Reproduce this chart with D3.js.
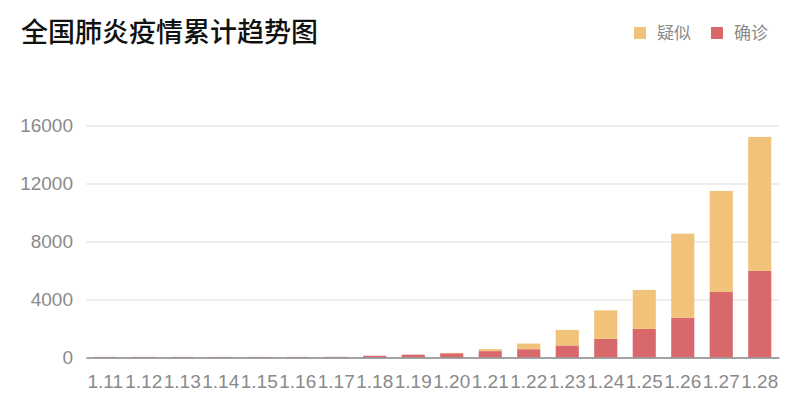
<!DOCTYPE html>
<html>
<head>
<meta charset="utf-8">
<script src="https://cdn.jsdelivr.net/npm/d3@7"></script>
<style>
    body { margin: 0; background: #fff; }
    svg text { font-family: "Noto Sans CJK SC", "Noto Sans", sans-serif; }
    svg .num text { font-family: "Liberation Sans", Arial, sans-serif; }
</style>
</head>
<body>
<div id="chart"></div>
<script>
// Cumulative cases per day
const dates = ['1.11', '1.12', '1.13', '1.14', '1.15', '1.16', '1.17', '1.18', '1.19',
    '1.20', '1.21', '1.22', '1.23', '1.24', '1.25', '1.26', '1.27', '1.28'];
const confirmed = [41, 41, 41, 41, 41, 41, 45, 121, 198, 291, 440, 571, 830, 1287, 1975, 2744, 4515, 5974];
const suspected = [0, 0, 0, 0, 0, 0, 0, 0, 0, 27, 140, 393, 1072, 1965, 2684, 5794, 6973, 9239];
const yTicks = [0, 4000, 8000, 12000, 16000];
const seriesNames = ['疑似', '确诊'];

const width = 800,
    height = 412,
    margin = { top: 125.5, right: 21, bottom: 54.5, left: 86 },
    colors = { '疑似': '#f0c27a', '确诊': '#d8686a' };

const svg = d3.select('#chart')
    .append('svg')
    .attr('width', width)
    .attr('height', height);

// Title
svg.append('text')
    .attr('x', 21)
    .attr('y', 42)
    .attr('font-size', 27)
    .attr('font-weight', 500)
    .attr('fill', '#111')
    .text('全国肺炎疫情累计趋势图');

// Legend
const legend = svg.append('g');
const legendX = [634, 711];
seriesNames.forEach((name, i) => {
    legend.append('rect')
        .attr('x', legendX[i])
        .attr('y', 27)
        .attr('width', 12)
        .attr('height', 12)
        .attr('fill', colors[name]);
    legend.append('text')
        .attr('x', legendX[i] + 23)
        .attr('y', 33)
        .attr('dy', '0.35em')
        .attr('font-size', 17)
        .attr('fill', '#8a8a8a')
        .text(name);
});

// Scales
const x = d3.scaleBand()
    .domain(dates)
    .range([margin.left, width - margin.right])
    .paddingInner(0.4)
    .paddingOuter(0.2);
const y = d3.scaleLinear()
    .domain([0, 16000])
    .range([height - margin.bottom, margin.top]);

// Gridlines + y labels
const yAxis = svg.append('g')
    .attr('class', 'num')
    .attr('transform', `translate(${margin.left}, 0)`)
    .call(d3.axisLeft(y)
        .tickValues(yTicks)
        .tickFormat(d3.format('d'))
        .tickSize(-(width - margin.left - margin.right))
        .tickPadding(13));
yAxis.select('.domain').remove();
yAxis.selectAll('.tick line').attr('stroke', '#dddddd').attr('stroke-width', 1.2);
yAxis.selectAll('.tick text').attr('font-size', 19).attr('fill', '#8a8a8a');

// Stacked bars
const rows = dates.map((d, i) => ({ date: d, '确诊': confirmed[i], '疑似': suspected[i] }));
const stack = d3.stack().keys(['确诊', '疑似'])(rows);

svg.append('g')
    .selectAll('g')
    .data(stack)
    .enter()
    .append('g')
    .attr('fill', s => colors[s.key])
    .selectAll('rect')
    .data(s => s)
    .enter()
    .append('rect')
    .attr('x', d => x(d.data.date))
    .attr('width', x.bandwidth())
    .attr('y', d => y(d[1]))
    .attr('height', d => y(d[0]) - y(d[1]));

// Baseline + x labels
const xAxis = svg.append('g')
    .attr('class', 'num')
    .attr('transform', `translate(0, ${height - margin.bottom})`)
    .call(d3.axisBottom(x).tickSize(0).tickPadding(17));
xAxis.select('.domain').attr('stroke', '#8a8a8a').attr('stroke-width', 1.5);
xAxis.selectAll('.tick text').attr('font-size', 19).attr('fill', '#8a8a8a');
</script>
</body>
</html>
